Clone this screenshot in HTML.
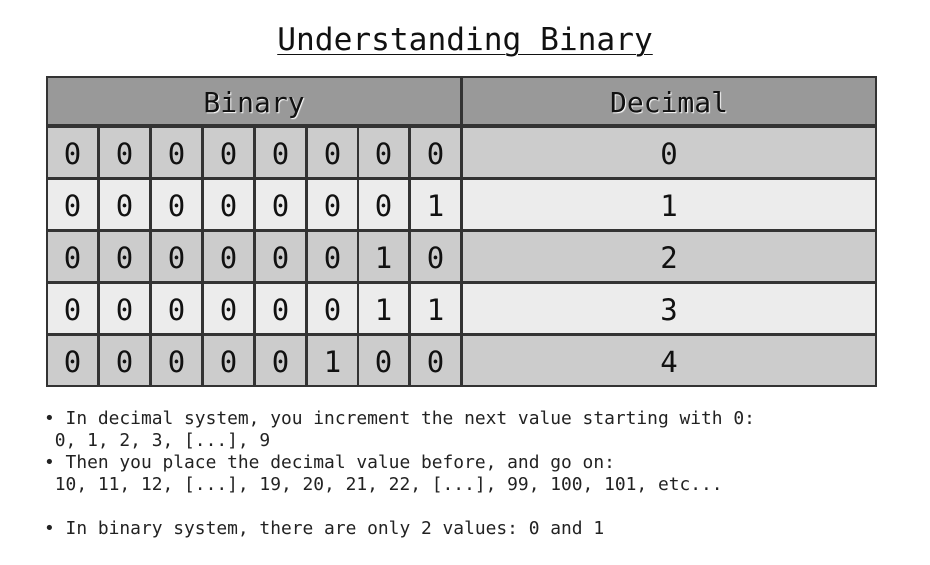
<!DOCTYPE html>
<html><head><meta charset="utf-8"><style>
body{margin:0;width:930px;height:565px;background:#fff;position:relative;overflow:hidden;font-family:"DejaVu Sans Mono","Liberation Mono",monospace}
.t{position:absolute;left:0;width:930px;top:20px;text-align:center;font-size:31.2px;line-height:40px;color:#111;text-decoration:underline;text-decoration-thickness:1px;text-underline-offset:4px}
.c{position:absolute;box-sizing:border-box;border:2px solid #333;display:flex;align-items:center;justify-content:center;font-size:29px;color:#111;padding-top:2px}
.h{background:#999;font-size:28px;text-shadow:1px 1px 1px #fff;border-bottom-width:3px}
.o{background:#ccc}.e{background:#ececec}
.p{position:absolute;left:44px;font-size:17.9px;line-height:22px;color:#222;white-space:pre}
</style></head><body>
<div class="t">Understanding Binary</div>
<div id="g"></div>
<div class="p" style="top:408px">• In decimal system, you increment the next value starting with 0:
 0, 1, 2, 3, [...], 9
• Then you place the decimal value before, and go on:
 10, 11, 12, [...], 19, 20, 21, 22, [...], 99, 100, 101, etc...

• In binary system, there are only 2 values: 0 and 1</div>
<script>
var g=document.getElementById('g'),h='';
h+='<div class="c h" style="left:46px;top:76px;width:416px;height:51px">Binary</div>';
h+='<div class="c h" style="left:461px;top:76px;width:416px;height:51px">Decimal</div>';
var rows=['00000000','00000001','00000010','00000011','00000100'];
for(var r=0;r<5;r++){var y=126+r*52,cl=r%2?'e':'o';
for(var i=0;i<8;i++){h+='<div class="c '+cl+'" style="left:'+Math.round(46+i*51.9)+'px;top:'+y+'px;width:53px;height:53px">'+rows[r][i]+'</div>';}
h+='<div class="c '+cl+'" style="left:461px;top:'+y+'px;width:416px;height:53px">'+r+'</div>';}
g.innerHTML=h;
</script>
</body></html>
